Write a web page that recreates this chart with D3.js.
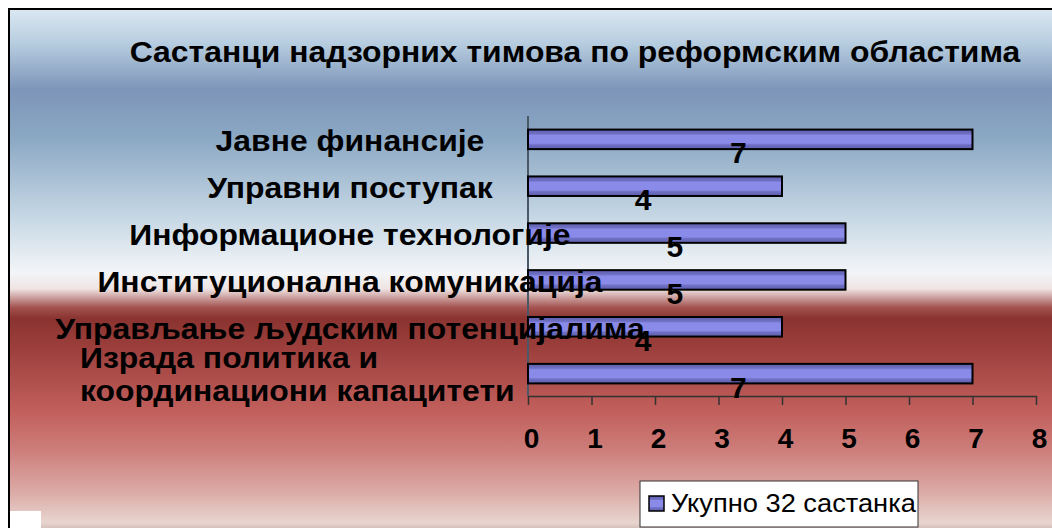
<!DOCTYPE html>
<html>
<head>
<meta charset="utf-8">
<script src="https://cdn.jsdelivr.net/npm/d3@7"></script>
<style>
  body { margin: 0; background: #fff; }
  svg { display: block; font-family: "Liberation Sans", Arial, sans-serif; }
</style>
</head>
<body>
<svg id="chart" width="1052" height="528"></svg>
<script>
// data
const categories = [
    "Јавне финансије",
    "Управни поступак",
    "Информационе технологије",
    "Институционална комуникација",
    "Управљање људским потенцијалима",
    "Израда политика и координациони капацитети"
];
const meetings = [7, 4, 5, 5, 4, 7];
const xTicks = [0, 1, 2, 3, 4, 5, 6, 7, 8];
const seriesName = "Укупно 32 састанка";
const chartTitle = "Састанци надзорних тимова по реформским областима";

var svg = d3.select("#chart"),
    width = +svg.attr("width"),
    height = +svg.attr("height");

// the original text is a bit wider than Arial, stretch it horizontally
function stretch(sel, k) {
    sel.each(function() {
        var w = this.getComputedTextLength();
        d3.select(this)
            .attr("textLength", w * k)
            .attr("lengthAdjust", "spacingAndGlyphs");
    });
}

var defs = svg.append("defs");

// background gradient (blue sky -> white -> dark red -> pink -> brown strip)
var bg = defs.append("linearGradient")
    .attr("id", "bgGrad")
    .attr("x1", 0).attr("y1", 0).attr("x2", 0).attr("y2", 1);
[
    [0.00, "#dbe8f2"],
    [0.06, "#b9cfe1"],
    [0.15, "#7d95b9"],
    [0.24, "#8ba8c4"],
    [0.38, "#c3d5e3"],
    [0.49, "#f3f5f8"],
    [0.52, "#efe4e3"],
    [0.555, "#a3524f"],
    [0.575, "#8a3330"],
    [0.63, "#9c3f3c"],
    [0.75, "#c2605c"],
    [0.82, "#cd7e7b"],
    [0.90, "#dcaca8"],
    [0.955, "#e8d5cf"],
    [0.97, "#cdb8b3"],
    [0.985, "#8d6d69"],
    [1.00, "#6e4d4a"]
].forEach(s => bg.append("stop").attr("offset", s[0]).attr("stop-color", s[1]));

// bar shading
var barGrad = defs.append("linearGradient")
    .attr("id", "barGrad")
    .attr("x1", 0).attr("y1", 0).attr("x2", 0).attr("y2", 1);
[
    [0.00, "#5f5fae"],
    [0.22, "#6f6fc4"],
    [0.30, "#8a8ae8"],
    [0.70, "#8a8ae8"],
    [0.78, "#6f6fc4"],
    [1.00, "#5f5fae"]
].forEach(s => barGrad.append("stop").attr("offset", s[0]).attr("stop-color", s[1]));

// frame
svg.append("rect")
    .attr("x", 9).attr("y", 9)
    .attr("width", width + 10).attr("height", height + 10)
    .attr("fill", "url(#bgGrad)")
    .attr("stroke", "#000")
    .attr("stroke-width", 2);

svg.append("rect")
    .attr("x", 10).attr("y", 511)
    .attr("width", 31).attr("height", 17)
    .attr("fill", "#fff");

// title
svg.append("text")
    .attr("x", 575)
    .attr("y", 62)
    .attr("text-anchor", "middle")
    .style("font-size", "29px")
    .style("font-weight", "bold")
    .text(chartTitle)
    .call(stretch, 1.1);

// scales
var x = d3.scaleLinear().domain([0, 8]).range([528, 1036]);
var y = d3.scaleBand().domain(categories)
    .range([116, 397])
    .paddingInner(0.583)
    .paddingOuter(0.29);

// y axis line
svg.append("line")
    .attr("x1", x(0)).attr("x2", x(0))
    .attr("y1", 116).attr("y2", 396)
    .attr("stroke", "#4a5868")
    .attr("stroke-width", 2);

// x axis
var xAxis = svg.append("g")
    .attr("transform", "translate(0,396)")
    .call(d3.axisBottom(x).tickValues(xTicks).tickSize(9).tickPadding(23).tickSizeOuter(0));
xAxis.select(".domain").attr("stroke", "#333").attr("stroke-width", 1.5);
xAxis.selectAll(".tick line").attr("stroke", "#333").attr("stroke-width", 1.5);
xAxis.selectAll(".tick text")
    .attr("dx", 3)
    .attr("fill", "#000")
    .style("font-family", "'Liberation Sans', Arial, sans-serif")
    .style("font-size", "28px")
    .style("font-weight", "bold");

// bars
svg.append("g")
    .selectAll("rect")
    .data(meetings)
    .enter()
    .append("rect")
    .attr("x", x(0))
    .attr("y", (d, i) => y(categories[i]))
    .attr("width", d => x(d) - x(0))
    .attr("height", y.bandwidth())
    .attr("fill", "url(#barGrad)")
    .attr("stroke", "#000")
    .attr("stroke-width", 2);

// value labels (Excel drops them a bit below the bar, left of centre)
svg.append("g")
    .selectAll("text")
    .data(meetings)
    .enter()
    .append("text")
    .attr("x", d => x(d / 2) - 12)
    .attr("y", (d, i) => y(categories[i]) + y.bandwidth() / 2 + 24)
    .attr("text-anchor", "middle")
    .style("font-size", "30px")
    .style("font-weight", "bold")
    .text(d => d);

// category labels
var catLabels = svg.append("g")
    .selectAll("text")
    .data(categories)
    .enter()
    .append("text")
    .attr("x", 350)
    .attr("y", d => y(d) + y.bandwidth() / 2 + 12)
    .attr("text-anchor", "middle")
    .style("font-size", "29px")
    .style("font-weight", "bold")
    .text(d => d);

// wrap the long last label onto two lines, left aligned like the original
var lastLabel = catLabels.filter((d, i) => i === categories.length - 1);
lastLabel.each(function(d) {
    var t = d3.select(this);
    var parts = ["Израда политика и", "координациони капацитети"];
    t.text(null).attr("text-anchor", "start").attr("x", 80);
    var cy = +t.attr("y") - 12;
    parts.forEach((p, k) => {
        t.append("tspan")
            .attr("x", 80)
            .attr("y", cy - 6 + k * 33)
            .text(p);
    });
});
catLabels.filter((d, i) => i < categories.length - 1).call(stretch, 1.1);
lastLabel.selectAll("tspan").call(stretch, 1.1);

// legend
var lg = svg.append("g").attr("transform", "translate(640,481)");
lg.append("rect")
    .attr("width", 278).attr("height", 46)
    .attr("fill", "#fff")
    .attr("stroke", "#333")
    .attr("stroke-width", 1);
lg.append("rect")
    .attr("x", 9).attr("y", 15)
    .attr("width", 15).attr("height", 15)
    .attr("fill", "url(#barGrad)")
    .attr("stroke", "#000")
    .attr("stroke-width", 1.5);
lg.append("text")
    .attr("x", 31).attr("y", 31)
    .style("font-size", "25px")
    .text(seriesName)
    .call(stretch, 1.09);
</script>
</body>
</html>
